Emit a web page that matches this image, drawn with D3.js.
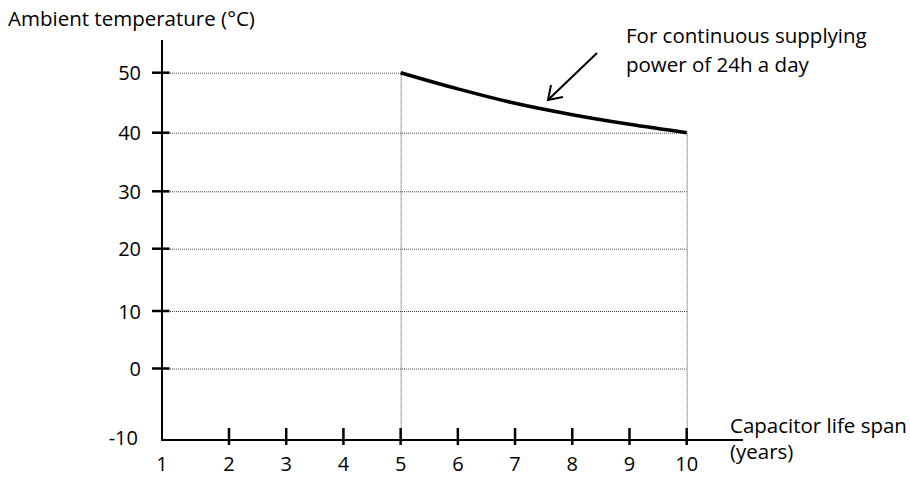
<!DOCTYPE html>
<html><head><meta charset="utf-8">
<script src="https://cdn.jsdelivr.net/npm/d3@7"></script>
<style>body{margin:0;background:#fff}svg{display:block}text{font-family:"Open Sans",Lato,sans-serif;fill:#000}</style>
</head><body><svg id="c" width="910" height="479"></svg>
<script>
const years = [1,2,3,4,5,6,7,8,9,10];
const yTicks = [-10,0,10,20,30,40,50];
const curveYears = [5,6,7,8,9,10];
const curveTemps = [50,47.3,44.9,43.0,41.4,40];
const yTitle = "Ambient temperature (°C)";
const xTitle = ["Capacitor life span","(years)"];
const note = ["For continuous supplying","power of 24h a day"];

const FS = 20.5, TS = 20;
const svg = d3.select("#c");
const x = d3.scaleLinear().domain([1,2,10]).range([162,229,686.7]);
const y = d3.scaleLinear().domain(yTicks).range([440,368.5,311,248.7,191.3,132.7,72.7]);

const grid = svg.append("g").attr("stroke","#444").attr("stroke-width",1).attr("stroke-dasharray","1,1").attr("fill","none");
yTicks.filter(d=>d>-10).forEach(d=>{
  const xe = d===50 ? x(5) : x(10);
  grid.append("line").attr("x1",x(1)).attr("x2",xe).attr("y1",y(d)+0.5).attr("y2",y(d)+0.5);
});
grid.append("line").attr("x1",x(5)+0.5).attr("x2",x(5)+0.5).attr("y1",y(50)).attr("y2",y(-10));
grid.append("line").attr("x1",x(10)+0.5).attr("x2",x(10)+0.5).attr("y1",y(40)).attr("y2",y(-10));

// axes
svg.append("line").attr("x1",x(1)).attr("x2",x(1)).attr("y1",40).attr("y2",y(-10)+1).attr("stroke","#000").attr("stroke-width",2);
svg.append("line").attr("x1",x(1)-1).attr("x2",743).attr("y1",y(-10)).attr("y2",y(-10)).attr("stroke","#000").attr("stroke-width",2);

// y ticks
svg.append("g").selectAll("line").data(yTicks.filter(d=>d>-10)).join("line")
  .attr("x1",x(1)-10).attr("x2",x(1)+7.5).attr("y1",d=>y(d)).attr("y2",d=>y(d))
  .attr("stroke","#000").attr("stroke-width",2.5);
svg.append("g").selectAll("text").data(yTicks).join("text")
  .attr("x",d=>d===-10?138:141).attr("y",d=>d===-10?y(d)-3:y(d)).attr("text-anchor","end")
  .attr("dominant-baseline","central").attr("font-size",TS).text(d=>d);

// x ticks
svg.append("g").selectAll("line").data(years.filter(d=>d>1)).join("line")
  .attr("x1",d=>x(d)).attr("x2",d=>x(d)).attr("y1",y(-10)-12).attr("y2",y(-10)+5)
  .attr("stroke","#000").attr("stroke-width",2.5);
svg.append("g").selectAll("text").data(years).join("text")
  .attr("x",d=>x(d)).attr("y",471).attr("text-anchor","middle").attr("font-size",TS).text(d=>d);

// curve
const pts = curveYears.map((d,i)=>[x(d),y(curveTemps[i])]);
svg.append("path").attr("d",d3.line().curve(d3.curveMonotoneX)(pts))
  .attr("fill","none").attr("stroke","#000").attr("stroke-width",3.5);

// titles
svg.append("text").attr("x",8).attr("y",26).attr("font-size",FS).text(yTitle);
svg.append("g").selectAll("text").data(xTitle).join("text")
  .attr("x",730).attr("y",(d,i)=>433+i*26).attr("font-size",FS).text(d=>d);
svg.append("g").selectAll("text").data(note).join("text")
  .attr("x",626).attr("y",(d,i)=>43+i*29).attr("font-size",FS).text(d=>d);

// arrow
const tip=[548,100], tail=[597,53];
svg.append("line").attr("x1",tail[0]).attr("y1",tail[1]).attr("x2",tip[0]+1).attr("y2",tip[1]-1)
  .attr("stroke","#000").attr("stroke-width",2);
svg.append("path").attr("d",`M${tip[0]+3},${tip[1]-15}L${tip[0]},${tip[1]}L${tip[0]+15},${tip[1]-3}`)
  .attr("fill","none").attr("stroke","#000").attr("stroke-width",2);
</script></body></html>
